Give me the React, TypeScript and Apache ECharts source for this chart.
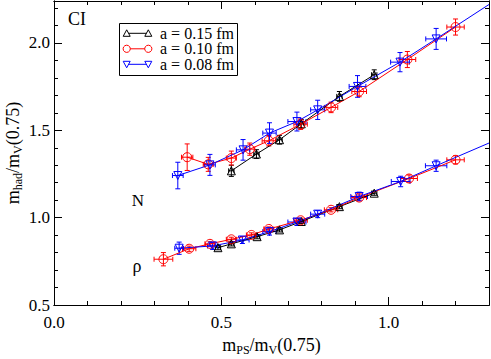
import React, { useEffect, useRef } from 'react';
import * as echarts from 'echarts';

const FONT = '"Liberation Serif", "DejaVu Serif", "Times New Roman", serif';

// ---- Data ----
// a = 0.15 fm (black, triangles)
const blackN_x = [0.530, 0.605, 0.674, 0.739, 0.853, 0.957];
const blackN_y = [1.268, 1.364, 1.446, 1.537, 1.694, 1.818];
const blackN_dx = [0.008, 0.008, 0.008, 0.008, 0.008, 0.008];
const blackN_dy = [0.032, 0.025, 0.025, 0.025, 0.028, 0.028];
const blackR_x = [0.490, 0.530, 0.607, 0.674, 0.739, 0.853, 0.957];
const blackR_y = [0.828, 0.850, 0.891, 0.930, 0.978, 1.063, 1.140];
const blackR_dx = [0.008, 0.008, 0.008, 0.008, 0.008, 0.008, 0.008];
const blackR_dy = [0.012, 0.012, 0.012, 0.012, 0.012, 0.012, 0.012];

// a = 0.10 fm (red, circles)
const redN_x = [0.398, 0.461, 0.530, 0.585, 0.642, 0.737, 0.828, 0.912, 1.056, 1.200];
const redN_y = [1.346, 1.305, 1.341, 1.392, 1.440, 1.535, 1.631, 1.722, 1.905, 2.091];
const redN_dx = [0.017, 0.015, 0.015, 0.015, 0.020, 0.020, 0.020, 0.022, 0.025, 0.026];
const redN_dy = [0.076, 0.040, 0.040, 0.035, 0.030, 0.030, 0.030, 0.030, 0.046, 0.046];
const redR_x = [0.327, 0.404, 0.466, 0.530, 0.590, 0.642, 0.737, 0.828, 0.912, 1.061, 1.200];
const redR_y = [0.762, 0.822, 0.850, 0.876, 0.901, 0.935, 0.985, 1.045, 1.115, 1.224, 1.331];
const redR_dx = [0.028, 0.020, 0.015, 0.015, 0.015, 0.015, 0.020, 0.020, 0.022, 0.025, 0.026];
const redR_dy = [0.038, 0.015, 0.012, 0.012, 0.012, 0.012, 0.012, 0.012, 0.015, 0.020, 0.023];

// a = 0.08 fm (blue, down triangles)
const blueN_x = [0.370, 0.466, 0.565, 0.644, 0.726, 0.788, 0.907, 1.034, 1.142];
const blueN_y = [1.241, 1.302, 1.388, 1.484, 1.550, 1.617, 1.751, 1.890, 2.023];
const blueN_dx = [0.016, 0.016, 0.020, 0.020, 0.027, 0.021, 0.025, 0.028, 0.031];
const blueN_dy = [0.076, 0.060, 0.059, 0.059, 0.054, 0.055, 0.062, 0.055, 0.060];
const blueR_x = [0.374, 0.474, 0.563, 0.644, 0.726, 0.788, 0.912, 1.036, 1.142];
const blueR_y = [0.825, 0.838, 0.872, 0.920, 0.975, 1.020, 1.121, 1.207, 1.297];
const blueR_dx = [0.013, 0.015, 0.020, 0.020, 0.027, 0.021, 0.025, 0.028, 0.032];
const blueR_dy = [0.035, 0.020, 0.020, 0.020, 0.020, 0.020, 0.025, 0.030, 0.032];

// blue extrapolation lines to the frame edge
const blueFitN = [[1.142, 2.023], [1.3, 2.22]];
const blueFitR = [[1.142, 1.297], [1.3, 1.427]];

const legendNames = ['a = 0.15 fm', 'a = 0.10 fm', 'a = 0.08 fm'];
const colors = ['#000000', '#ff0000', '#0000ff'];

const X_MIN = 0, X_MAX = 1.3, Y_MIN = 0.5, Y_MAX = 2.24;

function pts(x: number[], y: number[]) {
  return x.map((v, i) => [v, y[i]]);
}
function errs(x: number[], y: number[], dx: number[], dy: number[]) {
  return x.map((v, i) => [v, y[i], dx[i], dy[i]]);
}

function errorSeries(data: number[][], color: string) {
  return {
    type: 'custom',
    xAxisIndex: 0,
    yAxisIndex: 0,
    z: 1,
    clip: true,
    silent: true,
    encode: { x: 0, y: 1 },
    data,
    renderItem: (_p: any, api: any) => {
      const x = api.value(0), y = api.value(1), dx = api.value(2), dy = api.value(3);
      const c = api.coord([x, y]);
      const l = api.coord([x - dx, y]);
      const r = api.coord([x + dx, y]);
      const t = api.coord([x, y + dy]);
      const b = api.coord([x, y - dy]);
      const cap = 2.5;
      const style = { stroke: color, lineWidth: 1, fill: 'none' };
      const ln = (x1: number, y1: number, x2: number, y2: number) => ({
        type: 'line', shape: { x1, y1, x2, y2 }, style,
      });
      return {
        type: 'group',
        children: [
          ln(l[0], c[1], r[0], c[1]),
          ln(l[0], c[1] - cap, l[0], c[1] + cap),
          ln(r[0], c[1] - cap, r[0], c[1] + cap),
          ln(c[0], t[1], c[0], b[1]),
          ln(c[0] - cap, t[1], c[0] + cap, t[1]),
          ln(c[0] - cap, b[1], c[0] + cap, b[1]),
        ],
      };
    },
  };
}

function lineSeries(name: string, data: number[][], color: string, symbol: string, rotate: number, size: number) {
  return {
    type: 'line',
    name,
    xAxisIndex: 0,
    yAxisIndex: 0,
    z: 3,
    data,
    symbol,
    symbolSize: size,
    symbolRotate: rotate,
    showSymbol: true,
    itemStyle: { color: 'rgba(0,0,0,0)', borderColor: color, borderWidth: 1 },
    lineStyle: { color, width: 1 },
    emphasis: { disabled: true },
  };
}

const axisLineStyle = { color: '#000', width: 1 };

function xAxisDef(position: 'top' | 'bottom', interval: number, len: number, labels: boolean, extra: any = {}) {
  return {
    type: 'value',
    position,
    min: X_MIN,
    max: X_MAX,
    interval,
    axisLine: { show: true, onZero: false, lineStyle: axisLineStyle },
    axisTick: { show: true, inside: true, length: len, lineStyle: axisLineStyle },
    splitLine: { show: false },
    axisLabel: labels
      ? { show: true, margin: 9, color: '#000', fontFamily: FONT, fontSize: 17, showMaxLabel: false,
          formatter: (v: number) => v.toFixed(1) }
      : { show: false },
    ...extra,
  };
}
function yAxisDef(position: 'left' | 'right', interval: number, len: number, labels: boolean, extra: any = {}) {
  return {
    type: 'value',
    position,
    min: Y_MIN,
    max: Y_MAX,
    interval,
    axisLine: { show: true, onZero: false, lineStyle: axisLineStyle },
    axisTick: { show: true, inside: true, length: len, lineStyle: axisLineStyle },
    splitLine: { show: false },
    axisLabel: labels
      ? { show: true, margin: 4, color: '#000', fontFamily: FONT, fontSize: 17, showMaxLabel: false,
          formatter: (v: number) => v.toFixed(1) }
      : { show: false },
    ...extra,
  };
}

const subRich = {
  s: { fontFamily: FONT, fontSize: 12, lineHeight: 10, verticalAlign: 'bottom', color: '#000' },
};

export default function App() {
  const ref = useRef<HTMLDivElement>(null);
  useEffect(() => {
    if (!ref.current) return;
    const chart = echarts.init(ref.current, undefined, { renderer: 'svg' });

    // legend drawn as graphics
    const legRows = [33.3, 48.8, 64.3];
    const legX1 = 126.7, legX2 = 148.3, legText = 160;
    const legendGraphics: any[] = [
      { type: 'rect', shape: { x: 119.5, y: 23.5, width: 118, height: 52 },
        style: { fill: '#fff', stroke: '#000', lineWidth: 1 }, z: 10 },
    ];
    legRows.forEach((yy, i) => {
      const c = colors[i];
      legendGraphics.push({ type: 'line', shape: { x1: legX1, y1: yy, x2: legX2, y2: yy },
        style: { stroke: c, lineWidth: 1 }, z: 11 });
      [legX1, legX2].forEach((mx) => {
        if (i === 0) {
          legendGraphics.push({ type: 'polygon', shape: { points: [[mx, yy - 3.5], [mx + 3.5, yy + 3], [mx - 3.5, yy + 3]] },
            style: { fill: '#fff', stroke: c, lineWidth: 1 }, z: 12 });
        } else if (i === 1) {
          legendGraphics.push({ type: 'circle', shape: { cx: mx, cy: yy, r: 3.6 },
            style: { fill: '#fff', stroke: c, lineWidth: 1 }, z: 12 });
        } else {
          legendGraphics.push({ type: 'polygon', shape: { points: [[mx, yy + 3.5], [mx + 3.5, yy - 3], [mx - 3.5, yy - 3]] },
            style: { fill: '#fff', stroke: c, lineWidth: 1 }, z: 12 });
        }
      });
      legendGraphics.push({ type: 'text', x: legText, y: yy, z: 12,
        style: { text: legendNames[i], fill: '#000', fontFamily: FONT, fontSize: 16,
          align: 'left', verticalAlign: 'middle' } });
    });

    const option: any = {
      animation: false,
      backgroundColor: '#fff',
      grid: { left: 54, right: 2, top: 1, bottom: 54, containLabel: false, outerBoundsMode: 'none' },
      xAxis: [
        xAxisDef('bottom', 0.5, 8, true, {
          name: 'm{s|PS}/m{s|V}(0.75)',
          nameLocation: 'middle',
          nameGap: 29,
          nameMoveOverlap: false,
          nameTextStyle: { color: '#000', fontFamily: FONT, fontSize: 18, lineHeight: 22, rich: subRich },
        }),
        xAxisDef('bottom', 0.1, 4, false),
        xAxisDef('top', 0.5, 8, false),
        xAxisDef('top', 0.1, 4, false),
      ],
      yAxis: [
        yAxisDef('left', 0.5, 8, true, {
          name: 'm{s|had}/m{s|V}(0.75)',
          nameLocation: 'middle',
          nameGap: 30,
          nameMoveOverlap: false,
          nameTextStyle: { color: '#000', fontFamily: FONT, fontSize: 18, lineHeight: 22, rich: subRich },
        }),
        yAxisDef('left', 0.1, 4, false),
        yAxisDef('right', 0.5, 8, false),
        yAxisDef('right', 0.1, 4, false),
      ],
      graphic: [
        { type: 'text', x: 68, y: 19, style: { text: 'CI', fill: '#000', fontFamily: FONT, fontSize: 18, align: 'left', verticalAlign: 'middle' } },
        { type: 'text', x: 138, y: 200, style: { text: 'N', fill: '#000', fontFamily: FONT, fontSize: 17, align: 'center', verticalAlign: 'middle' } },
        { type: 'text', x: 137, y: 266, style: { text: 'ρ', fill: '#000', fontFamily: FONT, fontSize: 18, align: 'center', verticalAlign: 'middle' } },
        ...legendGraphics,
      ],
      series: [
        errorSeries(errs(blackN_x, blackN_y, blackN_dx, blackN_dy), colors[0]),
        errorSeries(errs(blackR_x, blackR_y, blackR_dx, blackR_dy), colors[0]),
        errorSeries(errs(redN_x, redN_y, redN_dx, redN_dy), colors[1]),
        errorSeries(errs(redR_x, redR_y, redR_dx, redR_dy), colors[1]),
        errorSeries(errs(blueN_x, blueN_y, blueN_dx, blueN_dy), colors[2]),
        errorSeries(errs(blueR_x, blueR_y, blueR_dx, blueR_dy), colors[2]),
        lineSeries(legendNames[0], pts(blackN_x, blackN_y), colors[0], 'triangle', 0, 8),
        lineSeries(legendNames[0], pts(blackR_x, blackR_y), colors[0], 'triangle', 0, 8),
        lineSeries(legendNames[1], pts(redN_x, redN_y), colors[1], 'circle', 0, 9),
        lineSeries(legendNames[1], pts(redR_x, redR_y), colors[1], 'circle', 0, 9),
        lineSeries(legendNames[2], pts(blueN_x, blueN_y), colors[2], 'triangle', 180, 8),
        lineSeries(legendNames[2], pts(blueR_x, blueR_y), colors[2], 'triangle', 180, 8),
        { ...lineSeries(legendNames[2], blueFitN, colors[2], 'none', 0, 0), showSymbol: false },
        { ...lineSeries(legendNames[2], blueFitR, colors[2], 'none', 0, 0), showSymbol: false },
      ],
    };
    chart.setOption(option);
    return () => chart.dispose();
  }, []);
  return (
    <div
      ref={ref}
      style={{ position: 'fixed', left: 0, top: 0, width: 491, height: 359, background: '#fff' }}
    />
  );
}
